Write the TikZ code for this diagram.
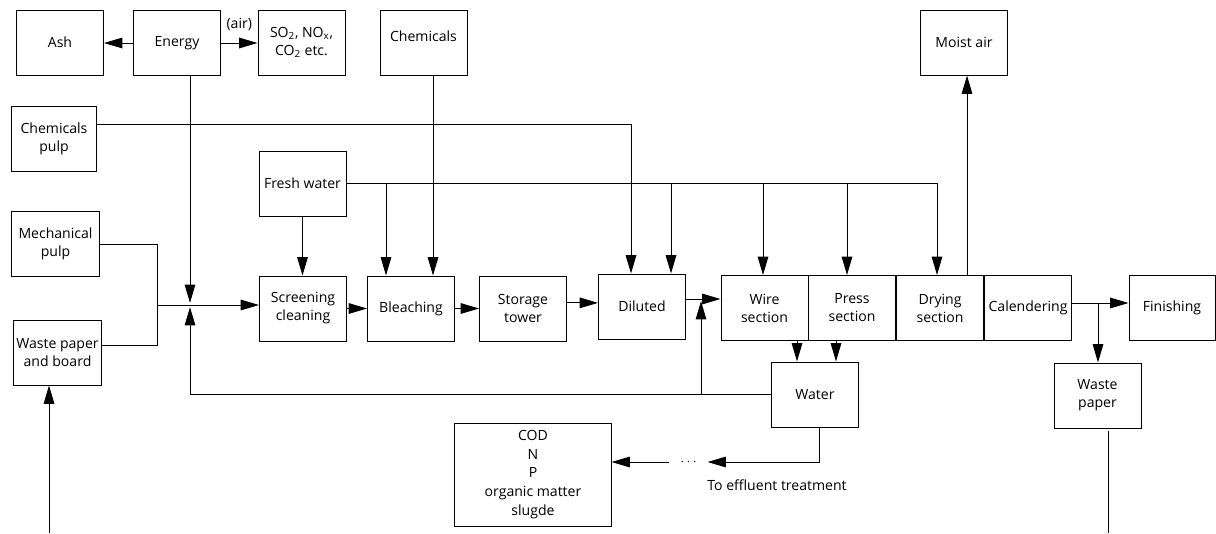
\documentclass[tikz,border=0pt]{standalone}
\usepackage{fontspec}
\setmainfont{Open Sans}
\usetikzlibrary{arrows.meta,positioning}

\tikzset{
  box/.style={draw, line width=0.7pt, minimum width=2.175cm, minimum height=1.625cm,
    align=center, inner sep=1pt},
  arr/.style={line width=0.7pt, -{Triangle[length=13pt,width=7.5pt]}},
  flow/.style={line width=0.7pt},
}

\begin{document}
\begin{tikzpicture}[x=0.025cm, y=-0.025cm, font=\fontsize{10}{12.8}\selectfont]
	\useasboundingbox (0,0) rectangle (1216,533); % keeps the margins of the page

	% top row
	\node[box] (ash) at (60,42.5) {Ash};
	\node[box] (energy) at (177,43) {Energy};
	\node[box] (gases) at (301.5,42.5) {SO\textsubscript{2}, NO\textsubscript{x},\\CO\textsubscript{2} etc.};
	\node[box, text depth=9pt] (chem) at (423.5,42.5) {Chemicals};
	\node[box] (moist) at (964,42.5) {Moist air};

	% raw materials on the left
	\node[box, minimum width=2.1cm] (chempulp) at (54,139) {Chemicals\\pulp};
	\node[box] (fresh) at (302.5,183.5) {Fresh water};
	\node[box] (mech) at (55.5,244) {Mechanical\\pulp};
	\node[box] (wastein) at (57.5,352.5) {Waste paper\\and board};

	% the process line
	\node[box] (screen) at (303,308.5) {Screening\\cleaning};
	\node[box] (bleach) at (411,308.5) {Bleaching};
	\node[box] (storage) at (523,308.5) {Storage\\tower};
	\node[box] (diluted) at (642,306.5) {Diluted};
	\node[box] (wire) at (764.5,308) {Wire\\section};
	\node[box] (press) at (852,308) {Press\\section};
	\node[box] (drying) at (940,308) {Drying\\section};
	\node[box] (calend) at (1028,308) {Calendering};
	\node[box, minimum width=2.15cm] (finish) at (1172,308) {Finishing};

	% below the line
	\node[box] (water) at (815,394.5) {Water};
	\node[box] (wasteout) at (1097.5,395.5) {Waste\\paper};
	\node[box, minimum width=3.9cm, minimum height=2.575cm,
		font=\fontsize{10}{13.4}\selectfont] (cod) at (533,474.5)
		{COD\\N\\P\\organic matter\\slugde};

	% energy and its outputs
	\draw[arr] (energy.west) -- (energy.west -| ash.east);
	\draw[arr] (energy.east) -- node[above=5pt] (airlbl) {(air)} (energy.east -| gases.west);

	% chemicals
	\draw[arr] ([yshift=10pt]chempulp.east) -| (diluted.north -| 631,0);
	\draw[arr] (chem.south -| 433,0) -- (bleach.north -| 433,0);

	% fresh water to every stage
	\draw[arr] (fresh.south) -- (fresh.south |- screen.north);
	\draw[arr] (fresh.east) -| (drying.north -| 937,0);
	\foreach \t/\x in {bleach/386, diluted/671, wire/763, press/847}
		\draw[arr] (fresh.east -| \x,0) -- (\t.north -| \x,0);
	\draw[arr] (drying.north -| 967,0) -- (moist.south -| 967,0);

	% pulps meet, energy and back water join
	\coordinate (merge) at (157,305);
	\coordinate (feed) at (190,305);
	\coordinate (wiretap) at (701,299);
	\draw[flow] (mech.east) -| (merge);
	\draw[flow] ([yshift=5pt]wastein.east) -| (merge);
	\draw[arr] (merge) -- (screen.west |- merge);
	\draw[arr, shorten >=1.5pt] (energy.south -| feed) -- (feed);
	\draw[arr, shorten >=1.5pt] (water.west) -| (feed);
	\draw[arr, shorten >=1.5pt] (water.west -| wiretap) -- (wiretap);

	% main flow
	\draw[arr] (screen) -- (bleach);
	\draw[arr] (bleach) -- (storage);
	\draw[arr] ([yshift=4pt]storage.east) -- ([yshift=4pt]storage.east -| diluted.west);
	\draw[arr] (diluted.east |- wiretap) -- (wire.west |- wiretap);
	\foreach \x in {797,836}
		\draw[arr] (wire.south -| \x,0) -- (water.north -| \x,0);
	\coordinate (caltap) at (1098,303);
	\draw[arr] (calend.east |- caltap) -- (finish.west |- caltap);
	\draw[arr] (caltap) -- (caltap |- wasteout.north);

	% lines leaving the page
	\coordinate (inbottom) at (49,533);
	\coordinate (outbottom) at (1108,533);
	\draw[arr] (inbottom) -- (inbottom |- wastein.south);
	\draw[flow] ([yshift=-2pt]wasteout.south -| outbottom) -- (outbottom);

	% effluent
	\node[inner xsep=7.5pt, inner ysep=0pt] (dots) at (688.5,462) {$\cdots$};
	\draw[arr] (water.south -| 819,0) |- (dots.east);
	\draw[arr] (dots.west) -- (dots.west -| cod.east);
	\node (efflbl) at (777,485) {To effluent treatment};
\end{tikzpicture}
\end{document}
